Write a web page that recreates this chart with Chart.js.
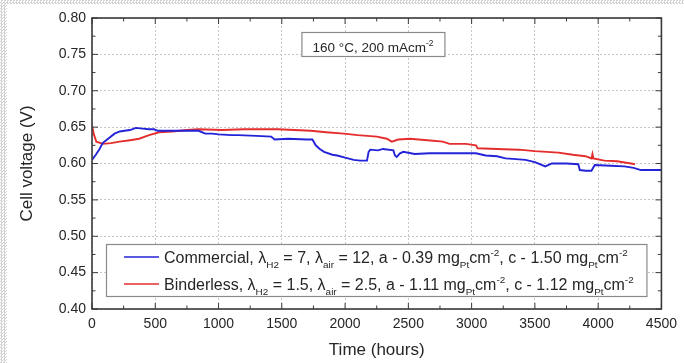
<!DOCTYPE html>
<html>
<head>
<meta charset="utf-8">
<script src="https://cdn.jsdelivr.net/npm/chart.js@4.4.1/dist/chart.umd.min.js"></script>
<style>
  html, body { margin:0; padding:0; background:#fff; }
  #wrap { position:relative; width:684px; height:363px; }
  canvas { position:absolute; left:0; top:0; }
  .strip { position:absolute; background-image: repeating-conic-gradient(#d4d4d4 0 25%, #fff 0 50%); background-size: 3px 3px; }
</style>
</head>
<body>
<div id="wrap">
  <canvas id="c" width="684" height="363"></canvas>
  <div class="strip" style="left:0;top:0;width:684px;height:4px"></div>
  <div class="strip" style="left:0;top:0;width:7px;height:363px"></div>
</div>
<script>
// ---- data ----
const commercialHours = [0,30,60,84,120,178,220,256,300,347,400,450,490,520,600,700,800,843,895,950,1000,1103,1156,1300,1416,1443,1550,1700,1742,1768,1800,1834,1900,1938,2000,2068,2120,2173,2186,2199,2260,2300,2382,2394,2408,2434,2460,2550,2668,2800,2900,3034,3112,3200,3269,3350,3425,3500,3582,3634,3750,3843,3855,3900,3947,3973,4100,4208,4280,4338,4420,4500];
const commercialVolt  = [0.605,0.612,0.620,0.628,0.633,0.641,0.644,0.645,0.646,0.649,0.648,0.647,0.647,0.645,0.645,0.645,0.645,0.645,0.641,0.641,0.640,0.639,0.639,0.638,0.637,0.633,0.634,0.633,0.633,0.625,0.620,0.616,0.612,0.611,0.608,0.605,0.604,0.604,0.616,0.619,0.618,0.620,0.618,0.611,0.609,0.614,0.616,0.613,0.614,0.614,0.614,0.614,0.611,0.610,0.607,0.606,0.605,0.602,0.596,0.600,0.600,0.599,0.591,0.590,0.590,0.598,0.597,0.596,0.594,0.591,0.591,0.591];
const binderlessHours = [0,15,34,86,150,217,300,373,451,530,632,750,843,1030,1200,1468,1600,1729,1850,1990,2100,2251,2330,2369,2420,2512,2650,2773,2825,2955,3034,3047,3200,3373,3500,3686,3800,3900,3947,3955,3962,4050,4150,4260,4291];
const binderlessVolt  = [0.652,0.640,0.630,0.627,0.628,0.630,0.632,0.634,0.639,0.643,0.644,0.646,0.647,0.646,0.647,0.647,0.646,0.645,0.643,0.641,0.639,0.637,0.634,0.630,0.633,0.634,0.632,0.630,0.627,0.627,0.625,0.621,0.620,0.619,0.617,0.615,0.612,0.610,0.607,0.613,0.607,0.604,0.603,0.600,0.599];
const xTickValues = [0,500,1000,1500,2000,2500,3000,3500,4000,4500];
const yTickValues = [0.40,0.45,0.50,0.55,0.60,0.65,0.70,0.75,0.80];
const xAxisTitle = 'Time (hours)';
const yAxisTitle = 'Cell voltage (V)';
const annotationText = [{t:'160 °C, 200 mAcm'},{t:'-2',sup:true}];
const legendCommercial = [{t:'Commercial, λ'},{t:'H2',sub:true},{t:' = 7, λ'},{t:'air',sub:true},{t:' = 12, a - 0.39 mg'},{t:'Pt',sub:true},{t:'cm'},{t:'-2',sup:true},{t:', c - 1.50 mg'},{t:'Pt',sub:true},{t:'cm'},{t:'-2',sup:true}];
const legendBinderless = [{t:'Binderless, λ'},{t:'H2',sub:true},{t:' = 1.5, λ'},{t:'air',sub:true},{t:' = 2.5, a - 1.11 mg'},{t:'Pt',sub:true},{t:'cm'},{t:'-2',sup:true},{t:', c - 1.12 mg'},{t:'Pt',sub:true},{t:'cm'},{t:'-2',sup:true}];

const BLUE = 'rgb(35,35,215)';
const RED = 'rgb(228,45,45)';
const FONT = '"Liberation Sans", Arial, sans-serif';
const TXT = '#262626';

function pts(xs, ys){ return xs.map((x,i)=>({x, y: ys[i]})); }

function drawRich(ctx, segs, x, y, size){
  for (const s of segs){
    let fs = size, dy = 0;
    if (s.sub){ fs = size*0.62; dy = size*0.3; }
    if (s.sup){ fs = size*0.62; dy = -size*0.42; }
    ctx.font = fs + 'px ' + FONT;
    ctx.fillText(s.t, x, y + dy);
    x += ctx.measureText(s.t).width;
  }
  return x;
}
function richWidth(ctx, segs, size){
  let w = 0;
  for (const s of segs){
    const fs = (s.sub||s.sup) ? size*0.62 : size;
    ctx.font = fs + 'px ' + FONT;
    w += ctx.measureText(s.t).width;
  }
  return w;
}

const decor = {
  id: 'decor',
  afterDatasetsDraw(chart){
    const {ctx, chartArea:a, scales:{x, y}} = chart;
    ctx.save();
    // annotation box
    const aw = 143, ah = 24;
    const acx = x.getPixelForValue(2220), atop = a.top + 14;
    ctx.fillStyle = '#fff';
    ctx.fillRect(acx - aw/2, atop, aw, ah);
    ctx.strokeStyle = '#8a8a8a'; ctx.lineWidth = 1.2;
    ctx.strokeRect(acx - aw/2 + 0.5, atop + 0.5, aw, ah);
    ctx.fillStyle = TXT; ctx.textBaseline = 'alphabetic';
    const tw = richWidth(ctx, annotationText, 13.5);
    drawRich(ctx, annotationText, acx - tw/2, atop + 19.5, 13.5);

    // legend box
    const lx = a.left + 14, lw = a.right - 15 - lx;
    const ly = a.bottom - 65, lh = 52;
    ctx.fillStyle = '#fff';
    ctx.fillRect(lx, ly, lw, lh);
    ctx.strokeStyle = '#8a8a8a'; ctx.lineWidth = 1.2;
    ctx.strokeRect(lx + 0.5, ly + 0.5, lw, lh);
    const items = [[BLUE, legendCommercial, 13], [RED, legendBinderless, 40]];
    for (const [col, segs, off] of items){
      ctx.strokeStyle = col; ctx.lineWidth = 1.5;
      ctx.beginPath(); ctx.moveTo(lx + 18, ly + off); ctx.lineTo(lx + 53, ly + off); ctx.stroke();
      ctx.fillStyle = TXT;
      drawRich(ctx, segs, lx + 58, ly + off + 6, 16);
    }
    ctx.restore();
  },
  afterDraw(chart){
    const {ctx, chartArea:a, scales:{x, y}} = chart;
    ctx.save();
    ctx.strokeStyle = '#3a3a3a';
    ctx.lineWidth = 1;
    ctx.beginPath();
    const xs = x.ticks.map(t=>t.value);
    for (let i = 0; i < xs.length; i++){
      const p = x.getPixelForValue(xs[i]);
      ctx.moveTo(p, a.bottom); ctx.lineTo(p, a.bottom - 6);
      ctx.moveTo(p, a.top); ctx.lineTo(p, a.top + 6);
      if (i < xs.length - 1){
        const m = x.getPixelForValue((xs[i] + xs[i+1]) / 2);
        ctx.moveTo(m, a.bottom); ctx.lineTo(m, a.bottom - 3.5);
        ctx.moveTo(m, a.top); ctx.lineTo(m, a.top + 3.5);
      }
    }
    const ys = y.ticks.map(t=>t.value);
    for (let i = 0; i < ys.length; i++){
      const p = y.getPixelForValue(ys[i]);
      ctx.moveTo(a.left, p); ctx.lineTo(a.left + 6, p);
      ctx.moveTo(a.right, p); ctx.lineTo(a.right - 6, p);
      if (i < ys.length - 1){
        const m = y.getPixelForValue((ys[i] + ys[i+1]) / 2);
        ctx.moveTo(a.left, m); ctx.lineTo(a.left + 3.5, m);
        ctx.moveTo(a.right, m); ctx.lineTo(a.right - 3.5, m);
      }
    }
    ctx.stroke();
    ctx.lineWidth = 1.6;
    ctx.strokeRect(a.left, a.top, a.right - a.left, a.bottom - a.top);
    ctx.restore();
  }
};

new Chart(document.getElementById('c'), {
  type: 'line',
  data: {
    datasets: [
      { label: 'Commercial', data: pts(commercialHours, commercialVolt), borderColor: BLUE, borderWidth: 1.9, pointRadius: 0, tension: 0 },
      { label: 'Binderless', data: pts(binderlessHours, binderlessVolt), borderColor: RED, borderWidth: 1.9, pointRadius: 0, tension: 0 }
    ]
  },
  options: {
    responsive: false,
    animation: false,
    events: [],
    layout: { padding: { top: 18, right: 17, left: 0, bottom: 0 } },
    plugins: { legend: { display: false }, tooltip: { enabled: false } },
    scales: {
      x: {
        type: 'linear', min: 0, max: 4500,
        afterBuildTicks(s){ s.ticks = xTickValues.map(v=>({value:v})); },
        afterFit(s){ s.height = 54; },
        ticks: { padding: 7, color: TXT, font: { family: FONT, size: 14 }, maxRotation: 0, callback: v => String(v) },
        grid: { color: '#c6c6c6', lineWidth: 1, drawTicks: false },
        border: { display: false, dash: [2, 2] },
        title: { display: true, text: xAxisTitle, color: TXT, font: { family: FONT, size: 17 }, padding: { top: 0, bottom: 2 } }
      },
      y: {
        type: 'linear', min: 0.4, max: 0.8,
        afterBuildTicks(s){ s.ticks = yTickValues.map(v=>({value:v})); },
        afterFit(s){ s.width = 92; },
        ticks: { padding: 6, color: TXT, font: { family: FONT, size: 14 }, callback: v => Number(v).toFixed(2) },
        grid: { color: '#c6c6c6', lineWidth: 1, drawTicks: false },
        border: { display: false, dash: [2, 2] },
        title: { display: true, text: yAxisTitle, color: TXT, font: { family: FONT, size: 17 }, padding: { top: 17, bottom: 0 } }
      }
    }
  },
  plugins: [decor]
});
</script>
</body>
</html>
